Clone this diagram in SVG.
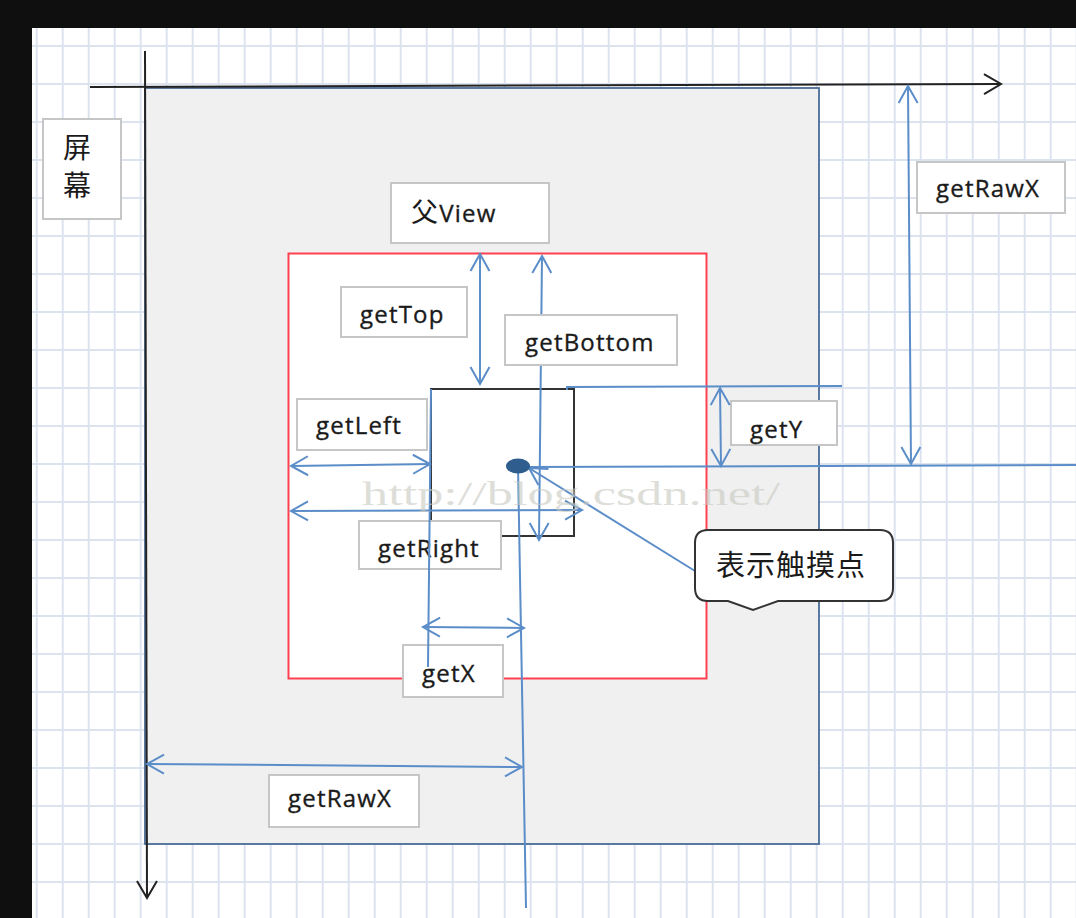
<svg xmlns="http://www.w3.org/2000/svg" width="1076" height="918" viewBox="0 0 1076 918">
<style>
.lbl{fill:#fff;stroke:#c6c6c6;stroke-width:2}
.t{font-family:"Open Sans","Noto Sans CJK SC",sans-serif;font-size:24px;letter-spacing:1.2px;fill:#1a1a1a;stroke:#1a1a1a;stroke-width:0.35px}
.cjk{font-family:"Noto Sans CJK SC",sans-serif;fill:#1a1a1a}
.c{fill:none;stroke:#5b8dc9;stroke-width:2}
.ax{fill:none;stroke:#222;stroke-width:2}
</style>
<defs>
<pattern id="grid" patternUnits="userSpaceOnUse" x="35.7" y="45" width="26" height="38">
<rect x="0" y="0" width="2" height="38" fill="#dce3ee"/>
<rect x="0" y="0" width="26" height="2" fill="#dce3ee"/>
</pattern>
<marker id="ab" viewBox="-20 -12 24 24" refX="0" refY="0" markerWidth="24" markerHeight="24" markerUnits="userSpaceOnUse" orient="auto-start-reverse">
<path d="M-17,-9.5 L0,0 L-17,9.5" fill="none" stroke="#5b8dc9" stroke-width="2"/>
</marker>
<marker id="ak" viewBox="-20 -12 24 24" refX="0" refY="0" markerWidth="24" markerHeight="24" markerUnits="userSpaceOnUse" orient="auto">
<path d="M-17,-10 L0,0 L-17,10" fill="none" stroke="#222" stroke-width="2"/>
</marker>
</defs>
<rect x="0" y="0" width="1076" height="918" fill="#0f0f0f"/>
<rect x="32" y="28" width="1044" height="890" fill="#fff"/>
<rect x="32" y="28" width="1044" height="890" fill="url(#grid)"/>

<g id="screen-area">
<rect x="145" y="88" width="674" height="756" fill="#f0f0f0" stroke="#4a6c98" stroke-width="1.8"/>
</g>
<g id="axes">
<line class="ax" x1="90" y1="87" x2="1001" y2="84" marker-end="url(#ak)"/>
<line class="ax" x1="145" y1="51" x2="147" y2="898" marker-end="url(#ak)"/>
</g>
<g id="parent-view">
<rect x="288.5" y="253.5" width="418" height="425" fill="#fff" stroke="#ff4050" stroke-width="2"/>
</g>
<g id="child-view">
<rect x="431" y="389" width="143" height="147" fill="#fff" stroke="#333" stroke-width="2"/>
</g>
<g id="label-screen">
<rect class="lbl" x="43" y="119" width="78" height="100"/>
<text class="cjk" x="77" y="158" font-size="28" text-anchor="middle">屏</text>
<text class="cjk" x="77" y="196" font-size="28" text-anchor="middle">幕</text>
</g>
<g id="label-parentview">
<rect class="lbl" x="391" y="183" width="158" height="60"/>
<text class="t" x="411" y="222"><tspan class="cjk" font-size="27" stroke-width="0">父</tspan>View</text>
</g>
<g id="label-gettop">
<rect class="lbl" x="341" y="287" width="126" height="50"/>
<text class="t" x="360" y="323">getTop</text>
</g>
<g id="label-getleft">
<rect class="lbl" x="297" y="399" width="130" height="51"/>
<text class="t" x="316" y="434">getLeft</text>
</g>
<g id="label-getright">
<rect class="lbl" x="359" y="521" width="142" height="48"/>
<text class="t" x="378" y="557">getRight</text>
</g>
<g id="label-getx">
<rect class="lbl" x="403" y="645" width="100" height="52"/>
<text class="t" x="422" y="682">getX</text>
</g>
<g id="label-gety">
<rect class="lbl" x="731" y="401" width="106" height="44"/>
<text class="t" x="750" y="438">getY</text>
</g>
<g id="label-getrawx-right">
<rect class="lbl" x="917" y="162" width="148" height="51"/>
<text class="t" x="936" y="197">getRawX</text>
</g>
<g id="label-getrawx-bottom">
<rect class="lbl" x="269" y="775" width="150" height="52"/>
<text class="t" x="288" y="807">getRawX</text>
</g>

<g id="connectors">
<line class="c" x1="480" y1="254" x2="480" y2="384" marker-start="url(#ab)" marker-end="url(#ab)"/>
<line class="c" x1="542" y1="256" x2="539" y2="540" marker-start="url(#ab)" marker-end="url(#ab)"/>
<line class="c" x1="291" y1="466" x2="430" y2="464" marker-start="url(#ab)" marker-end="url(#ab)"/>
<line class="c" x1="291" y1="511" x2="582" y2="510" marker-start="url(#ab)" marker-end="url(#ab)"/>
<line class="c" x1="720" y1="388" x2="721" y2="466" marker-start="url(#ab)" marker-end="url(#ab)"/>
<line class="c" x1="908" y1="86" x2="911" y2="464" marker-start="url(#ab)" marker-end="url(#ab)"/>
<line class="c" x1="423" y1="627" x2="524" y2="628" marker-start="url(#ab)" marker-end="url(#ab)"/>
<line class="c" x1="147" y1="764" x2="522" y2="767" marker-start="url(#ab)" marker-end="url(#ab)"/>
<line class="c" x1="528" y1="467" x2="1076" y2="465"/>
<path class="c" d="M567,390 L567,387 L842,386"/>
<line class="c" x1="431" y1="389" x2="428" y2="667"/>
<line class="c" x1="518" y1="466" x2="526" y2="908"/>
<line class="c" x1="695" y1="571" x2="529" y2="468" marker-end="url(#ab)"/>
</g>

<g id="label-getbottom">
<rect class="lbl" x="505" y="315" width="172" height="50"/>
<text class="t" x="525" y="351">getBottom</text>
</g>
<g id="touch-point">
<ellipse cx="518" cy="466" rx="12" ry="7.5" fill="#2f5d8e"/>
</g>
<g id="callout">
<path d="M708,530 H880 Q893,530 893,543 V588 Q893,601 880,601 H778 L753,610 L728,601 H708 Q695,601 695,588 V543 Q695,530 708,530 Z" fill="#fff" stroke="#333" stroke-width="2"/>
<text class="cjk" x="791" y="576" font-size="29" letter-spacing="1" text-anchor="middle">表示触摸点</text>
</g>
<text x="362" y="505" font-family="Liberation Serif, serif" font-size="34" textLength="418" lengthAdjust="spacingAndGlyphs" fill="#c8c8c0" fill-opacity="0.6">http://blog.csdn.net/</text>
</svg>
